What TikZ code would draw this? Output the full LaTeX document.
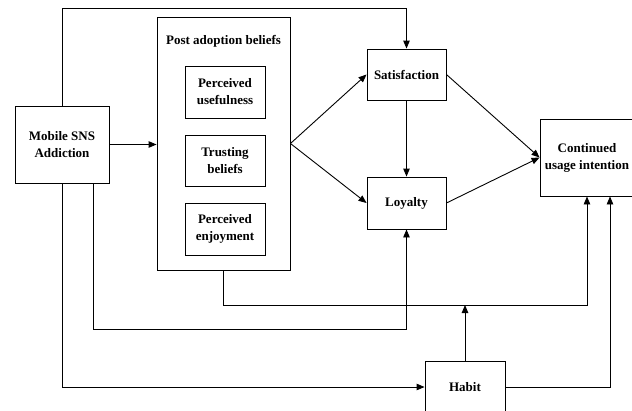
\documentclass[tikz,border=0pt]{standalone}
\usepackage{fontspec}
\setmainfont{Liberation Serif}
\usetikzlibrary{arrows.meta}
\begin{document}
\begin{tikzpicture}[x=1pt,y=-1pt,
  box/.style={draw, line width=0.9pt, inner sep=0pt, font=\fontsize{13}{17}\selectfont\bfseries, align=center},
  lbl/.style={inner sep=0pt, font=\fontsize{13}{17}\selectfont\bfseries, align=center},
  arr/.style={-{Triangle[length=8pt,width=6.5pt]}, line width=0.9pt}]
\useasboundingbox (0,0) rectangle (632,410);
\node[box, minimum width=94pt, minimum height=77pt] (msa) at (62,144.5) {Mobile SNS\\Addiction};
\node[box, minimum width=133pt, minimum height=253pt] (pab) at (223.5,143.5) {};
\node[lbl] (pabt) at (223.5,41) {Post adoption beliefs};
\node[box, minimum width=80pt, minimum height=52pt] (pu) at (225,92) {Perceived\\usefulness};
\node[box, minimum width=80pt, minimum height=51pt] (tb) at (225,160.5) {Trusting\\beliefs};
\node[box, minimum width=80pt, minimum height=52pt] (pe) at (225,229) {Perceived\\enjoyment};
\node[box, minimum width=79pt, minimum height=51pt] (sat) at (406.5,74.5) {Satisfaction};
\node[box, minimum width=79pt, minimum height=52pt] (loy) at (406.5,203) {Loyalty};
\node[box, minimum width=94pt, minimum height=77pt] (cui) at (587,157.5) {Continued\\usage intention};
\node[box, minimum width=80pt, minimum height=52pt] (hab) at (465,387) {Habit};
\coordinate (top) at (62,8);
\coordinate (c2) at (406.5,329);
\coordinate (c3) at (587,305);
\draw[arr] (msa.north) -- (top) -| (sat.north);
\draw[arr] (msa.east) -- (pab.west |- msa.east);
\draw[arr] (pab.east) -- (sat.west);
\draw[arr] (pab.east) -- (loy.west);
\draw[arr] (sat.east) -- (cui.west);
\draw[arr] (loy.east) -- (cui.west);
\draw[arr] (sat.south) -- (loy.north);
\draw[arr] (msa.south) |- (hab.west);
\draw[arr] ([xshift=31pt]msa.south) |- (c2) -- (loy.south);
\draw[arr] (pab.south) |- (c3) -- (cui.south);
\draw[arr] (hab.north) -- (hab.north |- c3);
\draw[arr] (hab.east) -| ([xshift=23pt]cui.south);
\end{tikzpicture}
\end{document}
